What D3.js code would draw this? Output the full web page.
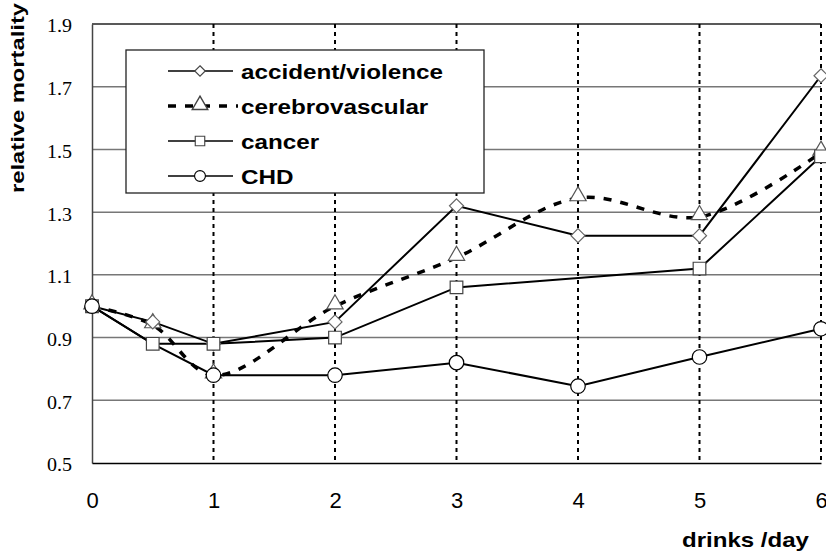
<!DOCTYPE html>
<html>
<head>
<meta charset="utf-8">
<script src="https://cdn.jsdelivr.net/npm/d3@7"></script>
<style>
  body { margin: 0; background: #fff; }
</style>
</head>
<body>
<div id="chart"></div>
<script>
// values
var drinks = [0, 0.5, 1, 2, 3, 4, 5, 6];
var accident = [1.0, 0.95, 0.88, 0.95, 1.32, 1.225, 1.225, 1.735];
var cerebro = [1.0, 0.94, 0.78, 1.0, 1.155, 1.345, 1.285, 1.49];
var cancer = [1.0, 0.88, 0.88, 0.90, 1.06, null, 1.12, 1.478];
var chd = [1.0, 0.88, 0.78, 0.78, 0.82, 0.745, 0.838, 0.928];
var chdMarker = [true, false, true, true, true, true, true, true];
var xTicks = [0, 1, 2, 3, 4, 5, 6];
var yTicks = [0.5, 0.7, 0.9, 1.1, 1.3, 1.5, 1.7, 1.9];
var names = ["accident/violence", "cerebrovascular", "cancer", "CHD"];

function init() {
    var w = 826;
    var h = 555;
    var left = 92, right = 821, top = 24, bottom = 463;
    var sans = "'Liberation Sans', Arial, sans-serif";
    var serif = "'Liberation Serif', 'Times New Roman', serif";

    var xScale = d3.scaleLinear().domain([0, 6]).range([left, right]);
    var yScale = d3.scaleLinear().domain([0.5, 1.9]).range([bottom, top]);

    var svg = d3.select("#chart").append("svg")
        .attr("width", w).attr("height", h);

    // horizontal grid
    svg.append("g")
        .selectAll("line")
        .data(yTicks.filter(function(d) { return d > 0.5; }))
        .enter().append("line")
        .attr("x1", left).attr("x2", right)
        .attr("y1", function(d) { return yScale(d); })
        .attr("y2", function(d) { return yScale(d); })
        .attr("stroke", function(d) { return d == 1.9 ? "#222" : "#777"; })
        .attr("stroke-width", 1.5);

    // vertical dashed grid
    svg.append("g")
        .selectAll("line")
        .data(xTicks.filter(function(d) { return d > 0; }))
        .enter().append("line")
        .attr("x1", function(d) { return xScale(d); })
        .attr("x2", function(d) { return xScale(d); })
        .attr("y1", top).attr("y2", bottom)
        .attr("stroke", "#000")
        .attr("stroke-width", 2)
        .attr("stroke-dasharray", "4,4");

    // axes
    var yAxis = d3.axisLeft(yScale).tickValues(yTicks).tickSize(0).tickPadding(20)
        .tickFormat(d3.format(".1f"));
    var gy = svg.append("g").attr("transform", "translate(" + left + ",0)").call(yAxis);
    gy.attr("font-family", null);
    gy.select(".domain").attr("stroke", "#444").attr("stroke-width", 1.5);
    gy.selectAll("text")
        .style("font-family", serif)
        .attr("font-size", 19).attr("fill", "#000")
        .attr("dy", "0.42em")
        .attr("textLength", 25).attr("lengthAdjust", "spacingAndGlyphs");

    var xAxis = d3.axisBottom(xScale).tickValues(xTicks).tickSize(0).tickPadding(29)
        .tickFormat(d3.format("d"));
    var gx = svg.append("g").attr("transform", "translate(0," + bottom + ")").call(xAxis);
    gx.select(".domain").attr("stroke", "#000").attr("stroke-width", 1.5);
    gx.selectAll("text")
        .style("font-family", sans)
        .attr("font-size", 22).attr("fill", "#000");

    // axis titles
    svg.append("text")
        .attr("transform", "translate(24,98) rotate(-90)")
        .attr("text-anchor", "middle")
        .style("font-family", sans)
        .attr("font-weight", "bold").attr("font-size", 17.5)
        .attr("textLength", 190).attr("lengthAdjust", "spacingAndGlyphs")
        .text("relative mortality");
    svg.append("text")
        .attr("x", 682).attr("y", 547)
        .style("font-family", sans)
        .attr("font-weight", "bold").attr("font-size", 21)
        .attr("textLength", 127).attr("lengthAdjust", "spacingAndGlyphs")
        .text("drinks /day");

    var straight = d3.line()
        .x(function(d) { return xScale(d[0]); })
        .y(function(d) { return yScale(d[1]); });
    var smooth = d3.line()
        .x(function(d) { return xScale(d[0]); })
        .y(function(d) { return yScale(d[1]); })
        .curve(d3.curveCatmullRom.alpha(0.5));

    function pts(vals) {
        return drinks.map(function(x, i) { return [x, vals[i]]; })
            .filter(function(d) { return d[1] != null; });
    }

    // lines
    svg.append("path").datum(pts(chd)).attr("d", straight)
        .attr("fill", "none").attr("stroke", "#000").attr("stroke-width", 2);
    svg.append("path").datum(pts(cancer)).attr("d", straight)
        .attr("fill", "none").attr("stroke", "#000").attr("stroke-width", 2);
    svg.append("path").datum(pts(accident)).attr("d", straight)
        .attr("fill", "none").attr("stroke", "#000").attr("stroke-width", 2);
    svg.append("path").datum(pts(cerebro)).attr("d", smooth)
        .attr("fill", "none").attr("stroke", "#000").attr("stroke-width", 3.5)
        .attr("stroke-dasharray", "8,9");

    var symDiamond = d3.symbol().type(d3.symbolDiamond2).size(125);
    var symTriangle = d3.symbol().type(d3.symbolTriangle).size(115);
    var symSquare = d3.symbol().type(d3.symbolSquare).size(160);
    var symCircle = d3.symbol().type(d3.symbolCircle).size(165);

    function markers(data, sym, stroke, dy) {
        svg.append("g").selectAll("path")
            .data(data).enter().append("path")
            .attr("transform", function(d) {
                return "translate(" + xScale(d[0]) + "," + (yScale(d[1]) + dy) + ")";
            })
            .attr("d", sym)
            .attr("fill", "#fff").attr("stroke", stroke).attr("stroke-width", 1.2);
    }

    markers(pts(cerebro), symTriangle, "#555", -2);
    markers(pts(accident), symDiamond, "#666", 0);
    markers(pts(cancer), symSquare, "#444", 0);
    markers(drinks.map(function(x, i) { return [x, chd[i]]; })
        .filter(function(d, i) { return chdMarker[i]; }), symCircle, "#000", 0);

    // legend
    var lg = svg.append("g");
    lg.append("rect")
        .attr("x", 126).attr("y", 50).attr("width", 358).attr("height", 143)
        .attr("fill", "#fff").attr("stroke", "#222").attr("stroke-width", 1.3);
    var syms = [symDiamond, symTriangle, symSquare, symCircle];
    var symScale = [0.75, 0.95, 0.75, 0.75];
    names.forEach(function(n, i) {
        var y = 71 + i * 35;
        var ln = lg.append("line")
            .attr("x1", 168).attr("x2", 233).attr("y1", y).attr("y2", y)
            .attr("stroke", "#000");
        if (i == 1) {
            ln.attr("stroke-width", 3.5).attr("stroke-dasharray", "8,9")
                .attr("x1", 168).attr("x2", 238);
        } else {
            ln.attr("stroke-width", 1.3);
        }
        lg.append("path")
            .attr("transform", "translate(200," + (y + (i == 1 ? -1 : 0)) + ") scale(" + symScale[i] + ")")
            .attr("d", syms[i])
            .attr("fill", "#fff").attr("stroke", i == 3 ? "#000" : "#444").attr("stroke-width", 1.5);
        lg.append("text")
            .attr("transform", "translate(241," + (y + 8) + ") scale(1.155,1)")
            .style("font-family", sans)
            .attr("font-weight", "bold").attr("font-size", 21)
            .text(n);
    });
}

window.onload = init;
</script>
</body>
</html>
